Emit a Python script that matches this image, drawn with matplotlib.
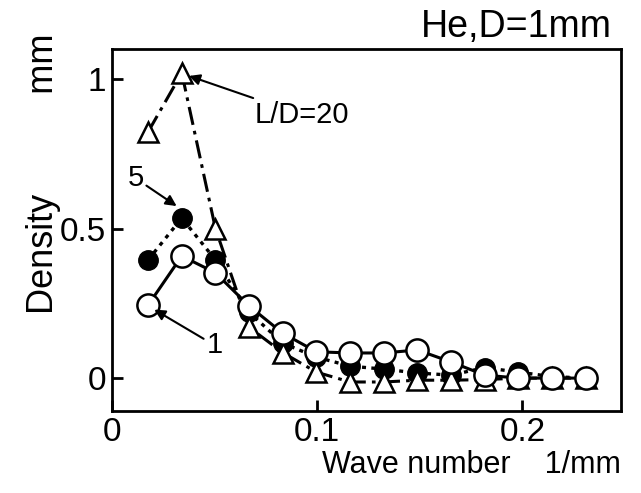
import matplotlib
matplotlib.use("Agg")
import matplotlib.pyplot as plt

plt.rcParams['font.family'] = ['Liberation Sans', 'DejaVu Sans']

# wave number (1/mm)
wave = [0.0176, 0.0340, 0.0504, 0.0668, 0.0832, 0.0996, 0.1160,
        0.1324, 0.1488, 0.1652, 0.1816, 0.1980, 0.2144, 0.2308]

# density (mm) for L/D = 1, 5, 20
dens_1 = [0.244, 0.408, 0.352, 0.241, 0.150, 0.088, 0.084,
          0.084, 0.094, 0.054, 0.010, 0.0, 0.0, 0.0]
dens_5 = [0.395, 0.535, 0.395, 0.220, 0.117, 0.070, 0.040,
          0.030, 0.017, 0.010, 0.035, 0.020, 0.005, 0.0]
dens_20 = [0.823, 1.020, 0.500, 0.170, 0.085, 0.020, -0.013,
           -0.013, -0.007, -0.007, -0.005, 0.0, 0.0, 0.0]

fig = plt.figure(figsize=(6.41, 4.93), dpi=100)
ax = fig.add_axes([0.1747, 0.1663, 0.7941, 0.7343])

ax.plot(wave, dens_5, linestyle=(0, (1.2, 1.6)), color='black', lw=2.4,
        marker='o', ms=14, mfc='black', mec='black', zorder=2)
ax.plot(wave, dens_20, linestyle=(0, (6, 2, 1.2, 2)), color='black', lw=2.2,
        marker='^', ms=14, mfc='white', mec='black', mew=1.8, zorder=3)
ax.plot(wave, dens_1, linestyle='-', color='black', lw=2.2,
        marker='o', ms=16, mfc='white', mec='black', mew=1.8, zorder=4)

arrow = dict(arrowstyle='-|>', color='black', lw=1.5, mutation_scale=16,
             shrinkA=0, shrinkB=0)
ax.annotate('L/D=20', xy=(wave[1] + 0.0035, dens_20[1] - 0.01),
            xytext=(0.0695, 0.88), fontsize=21, ha='left', va='center',
            arrowprops=arrow, zorder=5)
ax.annotate('5', xy=(wave[1] - 0.0025, dens_5[1] + 0.04),
            xytext=(0.0075, 0.668), fontsize=21, ha='left', va='center',
            arrowprops=arrow, zorder=5)
ax.annotate('1', xy=(wave[0] + 0.003, dens_1[0] - 0.015),
            xytext=(0.046, 0.11), fontsize=21, ha='left', va='center',
            arrowprops=arrow, zorder=5)

ax.set_xlim(0, 0.248)
ax.set_ylim(-0.11, 1.10)
ax.set_xticks([0, 0.1, 0.2])
ax.set_xticklabels(['0', '0.1', '0.2'])
ax.set_yticks([0, 0.5, 1])
ax.set_yticklabels(['0', '0.5', '1'])
ax.tick_params(direction='in', length=8, width=2, labelsize=24, pad=4)
for s in ax.spines.values():
    s.set_linewidth(2)

ax.set_xlabel('Wave number    1/mm', fontsize=22, loc='right', labelpad=2)
ax.set_ylabel('Density          mm', fontsize=26)
ax.yaxis.set_label_coords(-0.10, 0.655)
fig.text(0.955, 0.945, 'He,D=1mm', fontsize=27, ha='right', va='center')

fig.savefig('out.png', dpi=100)
